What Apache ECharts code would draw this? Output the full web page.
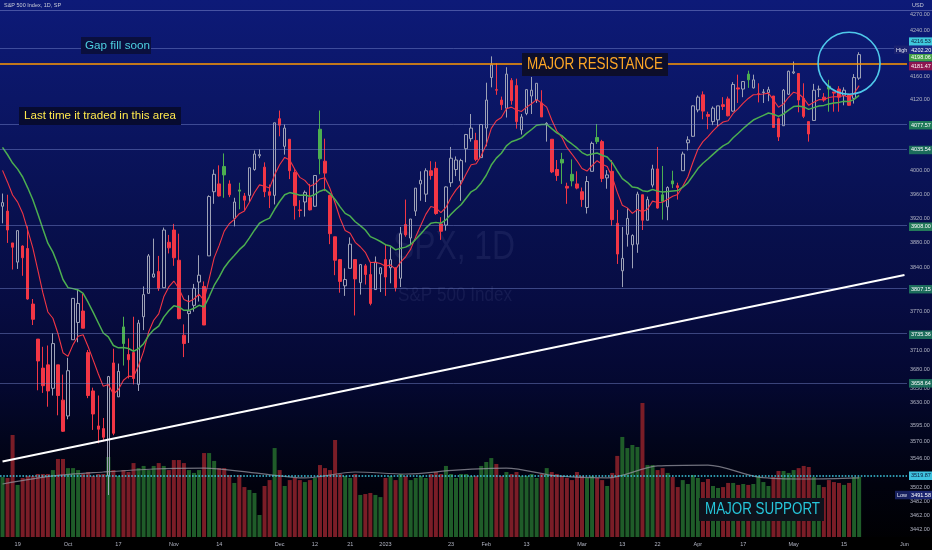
<!DOCTYPE html>
<html><head><meta charset="utf-8">
<script src="https://cdn.jsdelivr.net/npm/echarts@6/dist/echarts.min.js"></script>
<style>html,body{margin:0;padding:0;background:#000;}#c{width:932px;height:550px;}</style>
</head><body><div id="c"></div>
<script>
// ---------- categories ----------
const startDay = '2022-09-14', endDay = '2023-06-01';
const holidays = ['2022-11-24','2022-12-26','2023-01-02','2023-01-16','2023-02-20','2023-04-07','2023-05-29'];
function tradingDays(a, b) {
  const out = []; let d = new Date(a + 'T00:00:00Z'); const e = new Date(b + 'T00:00:00Z');
  while (d <= e) { const s = d.toISOString().slice(0,10); const w = d.getUTCDay();
    if (w !== 0 && w !== 6 && holidays.indexOf(s) < 0) out.push(s); d = new Date(d.getTime() + 86400000); }
  return out;
}
const dates = tradingDays(startDay, endDay);
const xLabels = {'2022-09-19':'19','2022-10-03':'Oct','2022-10-17':'17','2022-11-01':'Nov','2022-11-14':'14','2022-12-01':'Dec','2022-12-12':'12','2022-12-21':'21','2023-01-03':'2023','2023-01-23':'23','2023-02-01':'Feb','2023-02-13':'13','2023-03-01':'Mar','2023-03-13':'13','2023-03-22':'22','2023-04-03':'Apr','2023-04-17':'17','2023-05-01':'May','2023-05-15':'15','2023-06-01':'Jun'};

// ---------- price data ----------
const prevClose0 = 3932;
const opens = [3940,3932,3880,3849,3875,3871,3782,3727,3682,3687,
3651,3687,3633,3609,3726,3753,3771,3706,3647,3594,
3590,3520,3690,3638,3746,3703,3706,3657,3762,3799,
3825,3834,3808,3881,3901,3852,3733,3767,3780,3817,
3810,3859,3964,3977,4006,3977,3920,3967,3957,3958,
4001,4024,4005,3964,3958,4087,4040,4052,3996,3934,
3947,3954,3940,4069,4015,3958,3890,3853,3811,3839,
3853,3816,3843,3829,3805,3830,3853,3840,3840,3823,
3910,3888,3932,3977,3960,3999,4003,3911,3909,3979,
4001,3982,4036,4053,4050,4021,4071,4158,4137,4119,
4105,4153,4144,4068,4096,4126,4119,4114,4077,4052,
4001,4018,3973,3993,3977,3964,3938,3998,4055,4048,
3987,3998,3912,3835,3894,3877,3878,3959,3917,3975,
4002,3959,3939,3982,3974,3999,4046,4057,4102,4128,
4094,4082,4085,4111,4121,4100,4140,4138,4164,4140,
4130,4132,4132,4126,4087,4075,4129,4166,4165,4122,
4082,4084,4137,4124,4143,4133,4138,4127,4128,4122,4157];
const highs = [3961,3959,3880,3900,3876,3907,3790,3727,3715,3717,
3736,3687,3672,3698,3791,3806,3798,3710,3652,3640,
3606,3670,3712,3689,3762,3728,3762,3757,3810,3862,
3887,3859,3905,3893,3911,3895,3750,3796,3814,3860,
3818,3958,4001,4008,4028,3983,3954,3979,3962,4004,
4033,4035,4013,3976,4080,4101,4077,4052,4002,3950,
3966,3977,3991,4101,4053,3959,3890,3854,3839,3889,
3853,3846,3846,3848,3858,3840,3878,3873,3840,3906,
3951,3919,3970,3998,4003,4015,4014,3922,3973,4039,
4023,4019,4061,4095,4063,4077,4149,4195,4183,4125,
4176,4157,4156,4095,4138,4159,4148,4136,4081,4052,
4017,4029,3979,4018,3998,3971,3990,4048,4078,4051,
4000,4017,3934,3906,3937,3894,3964,3959,3956,4009,
4039,4007,3973,3999,3979,4031,4057,4110,4127,4134,
4099,4108,4109,4124,4125,4150,4163,4152,4170,4163,
4148,4138,4142,4126,4089,4138,4170,4186,4165,4148,
4082,4147,4144,4131,4154,4133,4143,4141,4130,4164,4202.2];
const lows = [3912,3880,3837,3838,3827,3789,3749,3648,3644,3623,
3640,3610,3585,3604,3726,3722,3745,3636,3588,3568,
3571,3491.58,3580,3638,3686,3666,3657,3647,3741,3799,
3824,3803,3808,3863,3843,3758,3699,3721,3770,3786,
3749,3859,3944,3956,3954,3955,3907,3935,3933,3947,
3999,4020,3955,3937,3943,4057,4026,3985,3918,3922,
3923,3933,3939,3993,3965,3878,3828,3800,3795,3839,
3764,3797,3813,3780,3805,3801,3795,3815,3802,3809,
3890,3877,3924,3949,3947,3984,3926,3885,3900,3972,
3990,3949,4013,4048,4015,4021,4040,4141,4128,4102,
4089,4111,4070,4060,4093,4095,4114,4091,4048,3995,
3982,3977,3944,3973,3968,3939,3928,3998,4044,3980,
3969,3908,3846,3809,3874,3839,3864,3901,3917,3971,
3936,3918,3917,3970,3951,3999,4033,4056,4098,4086,
4069,4076,4073,4102,4091,4099,4114,4124,4140,4139,
4115,4114,4117,4072,4049,4075,4128,4164,4098,4088,
4048,4084,4124,4116,4099,4099,4099,4110,4109,4113,4154];
const closes = [3946,3901,3873,3900,3856,3790,3758,3693,3655,3647,
3720,3640,3586,3678,3791,3783,3744,3640,3612,3589,
3577,3669,3583,3677,3720,3695,3666,3752,3797,3859,
3830,3807,3901,3872,3856,3759,3720,3771,3807,3828,
3749,3956,3993,3957,3992,3959,3947,3965,3950,4004,
4027,4026,3964,3958,4080,4076,4071,3999,3941,3933,
3963,3934,3991,4019,3995,3895,3852,3818,3821,3878,
3822,3845,3829,3783,3849,3840,3825,3853,3808,3895,
3893,3919,3970,3983,3999,3991,3928,3899,3972,4020,
4017,4016,4060,4071,4018,4077,4119,4180,4136,4111,
4164,4118,4082,4090,4137,4136,4148,4090,4079,3997,
3991,4012,3970,3982,3970,3951,3981,4045,4048,3986,
3992,3918,3862,3855,3920,3892,3960,3917,3951,4002,
3937,3948,3971,3977,3971,4027,4051,4109,4124,4100,
4091,4105,4109,4108,4092,4146,4138,4151,4154,4154,
4130,4133,4137,4072,4056,4136,4169,4168,4119,4091,
4061,4136,4138,4119,4138,4131,4124,4136,4110,4158,4198.06];

// moving averages (red fast, green slow), one value per session
const maFast = [3999.6,3979.9,3958.5,3946.8,3928.6,3900.9,3872.3,3836.4,3800.1,3769.5,
3759.6,3735.7,3705.8,3700.2,3718.4,3731.3,3733.8,3715.0,3694.4,3673.3,
3654.0,3657.0,3642.2,3649.2,3663.4,3669.7,3669.0,3685.6,3707.9,3738.1,
3756.5,3766.6,3793.5,3809.2,3818.6,3806.7,3789.4,3785.7,3790.0,3797.6,
3787.9,3821.5,3855.8,3876.0,3899.2,3911.2,3918.4,3927.7,3932.2,3946.6,
3962.7,3975.4,3973.1,3970.1,3992.1,4008.9,4021.3,4016.8,4001.6,3987.9,
3982.9,3973.1,3976.7,3985.2,3987.2,3968.8,3945.4,3919.9,3900.1,3895.7,
3881.0,3873.8,3864.8,3848.4,3848.5,3846.8,3842.4,3844.5,3837.2,3848.8,
3857.6,3869.9,3889.9,3908.5,3926.6,3939.5,3937.2,3929.6,3938.1,3954.5,
3967.0,3976.8,3993.4,4008.9,4010.7,4024.0,4043.0,4070.4,4083.5,4089.0,
4104.0,4106.8,4101.8,4099.4,4106.9,4112.7,4119.8,4113.8,4106.8,4084.8,
4066.0,4055.2,4038.2,4027.0,4015.6,4002.7,3998.4,4007.7,4015.8,4009.8,
4006.2,3988.6,3963.3,3941.6,3937.3,3928.2,3934.6,3931.1,3935.1,3948.5,
3946.2,3946.6,3951.5,3956.6,3959.5,3973.0,3988.6,4012.7,4035.0,4048.0,
4056.6,4066.3,4074.8,4081.4,4083.5,4096.0,4104.4,4113.7,4121.8,4128.2,
4128.6,4129.5,4131.0,4119.2,4106.6,4112.5,4123.8,4132.6,4129.9,4122.1,
4109.9,4115.1,4119.7,4119.6,4123.3,4124.8,4124.6,4126.9,4123.5,4130.4,4143.9];
const maSlow = [4038.3,4025.8,4011.9,4001.7,3988.5,3970.5,3951.2,3927.7,3902.9,3879.6,
3865.1,3844.6,3821.1,3808.1,3806.5,3804.4,3798.9,3784.5,3768.8,3752.5,
3736.5,3730.4,3717.0,3713.4,3714.0,3712.3,3708.1,3712.1,3719.8,3732.5,
3741.4,3747.4,3761.4,3771.5,3779.2,3777.4,3772.2,3772.1,3775.3,3780.1,
3777.3,3793.5,3811.6,3824.8,3840.0,3850.8,3859.5,3869.1,3876.5,3888.1,
3900.7,3912.1,3916.8,3920.5,3935.0,3947.8,3959.0,3962.6,3960.6,3958.1,
3958.5,3956.3,3959.5,3964.9,3967.6,3961.0,3951.1,3939.0,3928.3,3923.7,
3914.5,3908.2,3901.0,3890.3,3886.5,3882.3,3877.1,3874.9,3868.8,3871.2,
3873.2,3877.4,3885.8,3894.6,3904.1,3912.0,3913.5,3912.2,3917.6,3926.9,
3935.1,3942.5,3953.2,3963.9,3968.8,3978.6,3991.4,4008.5,4020.1,4028.4,
4040.7,4047.7,4050.8,4054.4,4061.9,4068.6,4075.8,4077.1,4077.3,4070.0,
4062.8,4058.2,4050.2,4044.0,4037.3,4029.5,4025.1,4026.9,4028.8,4024.9,
4021.9,4012.5,3998.8,3985.7,3979.7,3971.7,3970.6,3965.7,3964.4,3967.8,
3965.0,3963.5,3964.2,3965.4,3965.9,3971.5,3978.7,3990.5,4002.6,4011.5,
4018.7,4026.5,4034.0,4040.7,4045.4,4054.5,4062.1,4070.2,4077.8,4084.7,
4088.8,4092.8,4096.8,4094.5,4091.0,4095.1,4101.8,4107.8,4108.8,4107.2,
4103.0,4106.0,4108.9,4109.8,4112.4,4114.1,4115.0,4116.9,4116.3,4120.1,4127.2];

// volume (billions)
const volumes = [3.35,3.30,5.70,2.91,3.30,3.41,3.41,3.52,3.52,3.52,
3.74,4.36,4.36,3.85,3.85,3.74,3.52,3.63,3.41,3.52,
3.52,4.47,3.74,3.41,3.74,3.63,4.13,3.85,3.97,3.74,
3.97,4.13,3.97,3.74,4.30,4.30,4.13,3.74,3.58,3.74,
4.69,4.69,4.25,3.85,3.85,3.46,3.02,3.46,2.79,2.63,
2.46,1.23,2.85,3.18,4.97,3.74,2.85,3.18,3.30,3.18,
3.07,3.18,3.30,4.02,3.85,3.74,5.42,3.52,3.41,3.30,
3.52,2.35,2.40,2.46,2.35,2.23,3.30,3.41,3.18,3.52,
3.41,3.18,3.30,3.41,3.30,3.52,3.63,3.52,3.97,3.52,
3.30,3.52,3.52,3.41,3.41,3.97,4.19,4.41,4.08,3.41,
3.63,3.52,3.63,3.41,3.41,3.52,3.30,3.52,3.85,3.63,
3.52,3.41,3.30,3.18,3.63,3.41,3.30,3.41,3.30,3.18,
2.85,3.58,4.53,5.59,4.97,5.14,5.03,7.49,4.02,4.02,
3.74,3.85,3.58,3.35,2.79,3.18,2.96,3.46,3.30,3.07,
3.24,2.85,2.74,2.79,3.02,3.02,2.91,2.96,2.91,2.96,
3.41,3.07,2.85,3.35,3.69,3.69,3.58,3.74,3.85,3.97,
3.91,3.35,2.91,2.79,3.18,3.07,3.02,2.91,3.02,3.35,3.35];
const volMaIdx = [0,10,20,30,40,50,60,70,80,90,100,110,120,130,140,150,160,170];
const volMaVals = [2.96,3.41,3.63,3.80,3.85,3.58,3.30,3.63,3.52,3.74,3.85,3.41,3.30,3.97,4.02,3.35,3.24,3.30];

// right-axis tick labels
const priceTicks = [4270,4240,4160,4120,4000,3960,3920,3880,3840,3770,3710,3680,3650,3630,3595,3570,3546,3502,3482,3462,3442];
// horizontal levels
const levelPlain = [4209.7,4077.57,4035.54,3908,3807.15,3735.36,3658.64];
const boxLevels = [4077.57,4035.54,3908,3807.15,3735.36,3658.64,3519.87,4181.47,4198.06,4216.53];
const resistance = 4181.47, supportDotted = 3519.87;
const highVal = 4202.20, lowVal = 3491.58;
const trendStart = 3540.9, trendEnd = 3828.2;
const circleVal = 4183, circleIdx = 168;

// ---------- styles ----------
const RED = '#f23645', GREEN = '#4caf50', HOLLOW = '#9ea2b6';
const VRED = '#7a1d27', VGREEN = '#1f5c29';
const AX = '#b2b5c4', AXF = 'Liberation Sans, Arial, sans-serif';
const ANF = "'Liberation Sans', Arial, sans-serif";
const NOLINE = {color:'rgba(0,0,0,0)', width:1, type:'solid'};
const levelLineStyle = {color:'rgba(125,140,210,0.45)', width:1, type:'solid'};
// box colours, plus a small vertical nudge where stacked labels push each other apart
const boxStyle = {
  '4216.53':{bg:'#3fc9dc', fg:'#0a1a3c', dy:-2.5}, '4198.06':{bg:'#43a047', fg:'#fff', dy:2.5}, '4181.47':{bg:'#8e1550', fg:'#fff', dy:2},
  '4077.57':{bg:'#1f7a5a', fg:'#fff', dy:1}, '4035.54':{bg:'#1c6d5c', fg:'#fff', dy:1}, '3908':{bg:'#237a5a', fg:'#fff', dy:1},
  '3807.15':{bg:'#1c6d5c', fg:'#fff', dy:1}, '3735.36':{bg:'#1c6d5c', fg:'#fff', dy:1}, '3658.64':{bg:'#1c6d5c', fg:'#fff', dy:0},
  '3519.87':{bg:'#3fc3e0', fg:'#0a1a3c', dy:0}
};

// ---------- build series data ----------
const candleData = opens.map((o, i) => {
  const c = closes[i], prev = i > 0 ? closes[i-1] : prevClose0;
  const item = {value:[o, c, lows[i], highs[i]]};
  if (c < o) { const col = c >= prev ? GREEN : RED; item.itemStyle = {color0: col, borderColor0: col}; }
  return item;
});
const volData = volumes.map((v, i) => ({value: v, itemStyle: {color: closes[i] >= opens[i] ? VGREEN : VRED}}));
function sparse(idx, vals) { const a = new Array(opens.length).fill(null); idx.forEach((k, j) => a[k] = vals[j]); return a; }

function tickItem(v) {
  return {yAxis: v, lineStyle: NOLINE, label:{show:true, position:'end', distance:3, formatter: v.toFixed(2), color: AX, fontSize: 5.5, fontFamily: AXF}};
}
function boxItem(v) {
  const s = boxStyle[String(v)];
  return {yAxis: v, lineStyle: NOLINE,
    label:{show:true, position:'end', distance:2, offset:[0, s.dy], formatter: v.toFixed(2), color: s.fg, backgroundColor: s.bg, padding:[1.5,2,1,2], fontSize:5.5, fontFamily: AXF}};
}
const markData = [];
priceTicks.forEach(v => markData.push(tickItem(v)));
levelPlain.forEach(v => markData.push({yAxis: v, lineStyle: levelLineStyle, label:{show:false}}));
markData.push({yAxis: supportDotted, lineStyle:{color:'#3cc6dd', width:1.6, type:'dotted'}, label:{show:false}});
markData.push({yAxis: resistance, lineStyle:{color:'#ff9800', width:1.6, type:'solid'}, label:{show:false}});
boxLevels.forEach(v => markData.push(boxItem(v)));
markData.push({yAxis: highVal, lineStyle: NOLINE, label:{show:true, position:'end', distance:2, offset:[-15,-2.5],
  formatter:'{a|High}{b|' + highVal.toFixed(2) + '}', rich:{a:{color:'#e0e3ef', fontSize:5.5, fontFamily:AXF, padding:[1.5,2,1,2], backgroundColor:'#1a2170'}, b:{color:'#fff', fontSize:5.5, fontFamily:AXF, backgroundColor:'#1a2a86', padding:[1.5,2,1,2]}}}});
markData.push({yAxis: lowVal, lineStyle: NOLINE, label:{show:true, position:'end', distance:2, offset:[-14,0],
  formatter:'{a|Low}{b|' + lowVal.toFixed(2) + '}', rich:{a:{color:'#e0e3ef', fontSize:5.5, fontFamily:AXF, padding:[1.5,2,1,2], backgroundColor:'#17205e'}, b:{color:'#fff', fontSize:5.5, fontFamily:AXF, backgroundColor:'#1a2470', padding:[1.5,2,1,2]}}}});
markData.push([{coord:[dates[0], trendStart], lineStyle:{color:'#ffffff', width:2, type:'solid'}, label:{show:false}}, {coord:[dates[dates.length-1], trendEnd]}]);

const chart = echarts.init(document.getElementById('c'), null, {renderer:'canvas'});
const bgGrad = new echarts.graphic.LinearGradient(0,0,0,1,[
  {offset:0, color:'#0d1a78'},{offset:0.18, color:'#0b1666'},{offset:0.4, color:'#08104e'},{offset:0.55, color:'#070c42'},
  {offset:0.7, color:'#040830'},{offset:0.8, color:'#02051c'},{offset:0.88, color:'#01020e'},{offset:1, color:'#000000'}]);

const mctx = document.createElement('canvas').getContext('2d');
function fitScale(text, font, width) { mctx.font = font; const w = mctx.measureText(text).width; return w > 0 ? width / w : 1; }

function boxText(x, y, w, h, fill, text, color, size, cx, cy, targetW) {
  const font = size + 'px ' + ANF;
  return [
    {type:'rect', shape:{x:x, y:y, width:w, height:h}, style:{fill:fill}, z:100, silent:true},
    {type:'text', x:cx, y:cy, scaleX: fitScale(text, font, targetW), style:{text:text, fill:color, font: font, align:'center', verticalAlign:'middle'}, z:101, silent:true}
  ];
}
const wmFont1 = '40px ' + AXF, wmFont2 = '20px ' + AXF;

const graphics = [
  {type:'rect', shape:{x:0,y:0,width:932,height:550}, style:{fill:bgGrad}, z:-10, silent:true},
  {type:'rect', shape:{x:0,y:537,width:932,height:13}, style:{fill:'#000'}, z:-9, silent:true},
  {type:'line', shape:{x1:0,y1:10.5,x2:932,y2:10.5}, style:{stroke:'rgba(120,132,200,0.55)', lineWidth:1}, z:-8, silent:true},
  {type:'text', x:4, y:5, style:{text:'S&P 500 Index, 1D, SP', fill:'#c9ccd8', font:'5.5px ' + AXF, verticalAlign:'middle'}, z:5, silent:true},
  {type:'text', x:912, y:5, style:{text:'USD', fill:'#c9ccd8', font:'5.5px ' + AXF, verticalAlign:'middle'}, z:5, silent:true},
  {type:'text', x:454, y:248, scaleX: fitScale('SPX, 1D', wmFont1, 122), style:{text:'SPX, 1D', fill:'rgba(150,160,210,0.10)', font: wmFont1, align:'center', verticalAlign:'middle'}, z:-7, silent:true},
  {type:'text', x:455, y:295, scaleX: fitScale('S&P 500 Index', wmFont2, 114), style:{text:'S&P 500 Index', fill:'rgba(150,160,210,0.10)', font: wmFont2, align:'center', verticalAlign:'middle'}, z:-7, silent:true}
].concat(
  boxText(81, 37, 70, 17, '#0a0f3e', 'Gap fill soon', '#4dd0e1', 11.5, 117.5, 45.5, 65),
  boxText(19, 107, 162, 18, '#070b30', 'Last time it traded in this area', '#ffe94d', 11.5, 100, 116, 152),
  boxText(522, 53, 146, 23, '#0d0e2a', 'MAJOR RESISTANCE', '#ffa726', 16.5, 595, 64.5, 136),
  boxText(699, 498, 125, 23, '#0e121c', 'MAJOR SUPPORT', '#26c6da', 16.5, 762.5, 509.5, 115)
);

chart.setOption({
  animation: false,
  grid: {left:0, right:25, top:0, bottom:13, containLabel:false},
  xAxis: {type:'category', data: dates, boundaryGap:true,
    axisLine:{show:false}, axisTick:{show:false}, splitLine:{show:false},
    axisLabel:{interval:(i, v) => xLabels[v] !== undefined, formatter: v => xLabels[v] || '', color: AX, fontSize:5.5, fontFamily:AXF, margin:4, hideOverlap:false}},
  yAxis: [
    {type:'log', logBase:10, min:3430.8, max:4295.1, position:'right', axisLabel:{show:false}, axisLine:{show:false}, axisTick:{show:false}, splitLine:{show:false}},
    {type:'value', min:0, max:30, show:false, splitLine:{show:false}}
  ],
  graphic: graphics,
  series: [
    {type:'bar', name:'Volume', yAxisIndex:1, data: volData, barWidth:4, z:1, silent:true},
    {type:'line', name:'Vol MA', yAxisIndex:1, data: sparse(volMaIdx, volMaVals), connectNulls:true, showSymbol:false, smooth:0.3,
      lineStyle:{color:'rgba(150,150,160,0.75)', width:1.2}, z:2, silent:true},
    {type:'candlestick', name:'SPX', data: candleData, barWidth:3, z:3, clip:false,
      itemStyle:{color:'rgba(0,0,0,0)', color0:RED, borderColor:HOLLOW, borderColor0:RED, borderWidth:1},
      markLine:{silent:true, symbol:['none','none'], animation:false, data: markData}},
    {type:'line', name:'MA fast', data: maFast, showSymbol:false,
      lineStyle:{color:'#f23645', width:1.1}, z:4, silent:true},
    {type:'line', name:'MA slow', data: maSlow, showSymbol:false,
      lineStyle:{color:'#4caf50', width:1.5}, z:4, silent:true}
  ]
});

const cp = chart.convertToPixel({xAxisIndex:0, yAxisIndex:0}, [dates[circleIdx], circleVal]);
chart.setOption({graphic: graphics.concat([{type:'circle', shape:{cx:cp[0], cy:cp[1], r:31}, style:{fill:'none', stroke:'#4fc8ea', lineWidth:1.6}, z:102, silent:true}])});
</script></body></html>
